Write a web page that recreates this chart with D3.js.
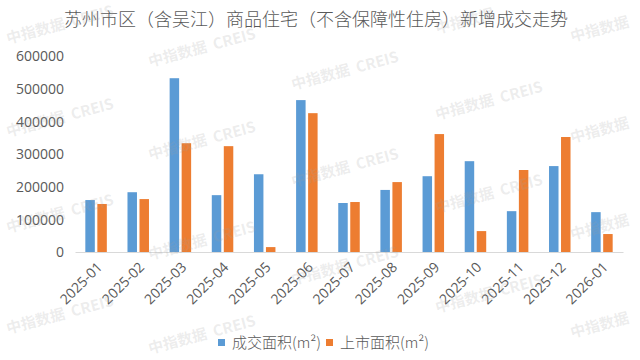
<!DOCTYPE html>
<html><head><meta charset="utf-8">
<script src="https://cdn.jsdelivr.net/npm/d3@7"></script>
<style>
html,body{margin:0;padding:0;background:#fff;}
svg{display:block;}
</style></head>
<body>
<svg id="chart" width="640" height="360"></svg>
<script>
const title = "苏州市区（含吴江）商品住宅（不含保障性住房）新增成交走势";
const categories = ["2025-01","2025-02","2025-03","2025-04","2025-05","2025-06","2025-07","2025-08","2025-09","2025-10","2025-11","2025-12","2026-01"];
const dealArea = [159000,183000,532000,174000,238000,465000,150000,190000,232000,278000,125000,263000,122000];
const supplyArea = [147000,162000,333000,324000,15000,425000,153000,214000,361000,64000,251000,352000,55000];
const seriesNames = ["成交面积(m²)","上市面积(m²)"];
const yTicks = [0,100000,200000,300000,400000,500000,600000];
const watermarkFull = "中指数据  CREIS";
const watermarkShort = "中指数据";

const colors = ["#5B9BD5","#ED7D31"];
const svg = d3.select("#chart");
const numFont = "'Open Sans', 'Liberation Sans', sans-serif";
const cjkFont = "'Noto Sans CJK SC', sans-serif";
const textColor = "#595959";

const x = d3.scaleBand().domain(categories).range([75, 623]).padding(0);
const xSub = d3.scaleBand().domain([0,1]).range([0, x.bandwidth()]).paddingInner(0.21).paddingOuter(0.86);
const y = d3.scaleLinear().domain([0, 600000]).range([252, 56]);

// watermarks (drawn first, faint, behind nothing important)
const wmLayer = [];
const wmCols = [8, 150, 293, 437, 572];
const wmRows = [
  [44, 137, 233, 334],
  [67, 160, 260, 354],
  [90, 187, 285],
  [34, 120, 213, 313],
  [42, 143, 240, 338]
];
wmCols.forEach((wx, ci) => {
  wmRows[ci].forEach(wy => {
    const txt = (ci === 4 || (ci === 3 && wy < 50)) ? watermarkShort : watermarkFull;
    wmLayer.push({wx, wy, txt});
  });
});

// title
svg.append("text").attr("x", 316).attr("y", 26).attr("text-anchor","middle")
  .attr("font-family", cjkFont).attr("font-size", 18).attr("font-weight", 300).attr("fill", textColor)
  .text(title);

// y axis labels
const yAxis = d3.axisLeft(y).tickValues(yTicks).tickSize(0).tickPadding(0).tickFormat(d3.format("d"));
const gy = svg.append("g").attr("transform","translate(64,0)").call(yAxis);
gy.select(".domain").remove();
gy.selectAll("text").attr("font-family", numFont).attr("font-size", 14).attr("fill", textColor).attr("dy","0.35em");

// bars
const rows = categories.map((c,i)=>({c, v:[dealArea[i], supplyArea[i]]}));
const g = svg.append("g");
rows.forEach(r=>{
  r.v.forEach((v,k)=>{
    g.append("rect").attr("x", x(r.c)+xSub(k)).attr("width", xSub.bandwidth())
      .attr("y", y(v)).attr("height", y(0)-y(v)).attr("fill", colors[k]);
  });
});

// x axis
const xAxis = d3.axisBottom(x).tickSize(0).tickPadding(0);
const gx = svg.append("g").attr("transform", `translate(0,${y(0)})`).call(xAxis);
gx.select(".domain").attr("stroke","#d9d9d9").attr("stroke-width",1);
gx.selectAll("text").attr("font-family", numFont).attr("font-size", 14).attr("fill", textColor)
  .attr("text-anchor","end").attr("dy", null)
  .attr("transform","translate(7,16) rotate(-45)");

// legend
const legend = svg.append("g");
const lx = [218, 326];
seriesNames.forEach((n,k)=>{
  legend.append("rect").attr("x", lx[k]).attr("y", 339).attr("width",7).attr("height",7).attr("fill", colors[k]);
  legend.append("text").attr("x", lx[k]+14).attr("y", 348).attr("font-family", cjkFont)
    .attr("font-size", 15).attr("font-weight", 300).attr("fill", textColor).text(n);
});

// watermark text on top, semi-transparent
const wm = svg.append("g").attr("pointer-events","none");
wmLayer.forEach(d=>{
  wm.append("text").attr("transform", `translate(${d.wx},${d.wy}) rotate(-15)`)
    .attr("font-family", cjkFont).attr("font-size", 15).attr("font-weight","bold")
    .attr("fill", "#a0a0a0").attr("fill-opacity", 0.2).attr("xml:space","preserve").text(d.txt);
});
</script>
</body></html>
